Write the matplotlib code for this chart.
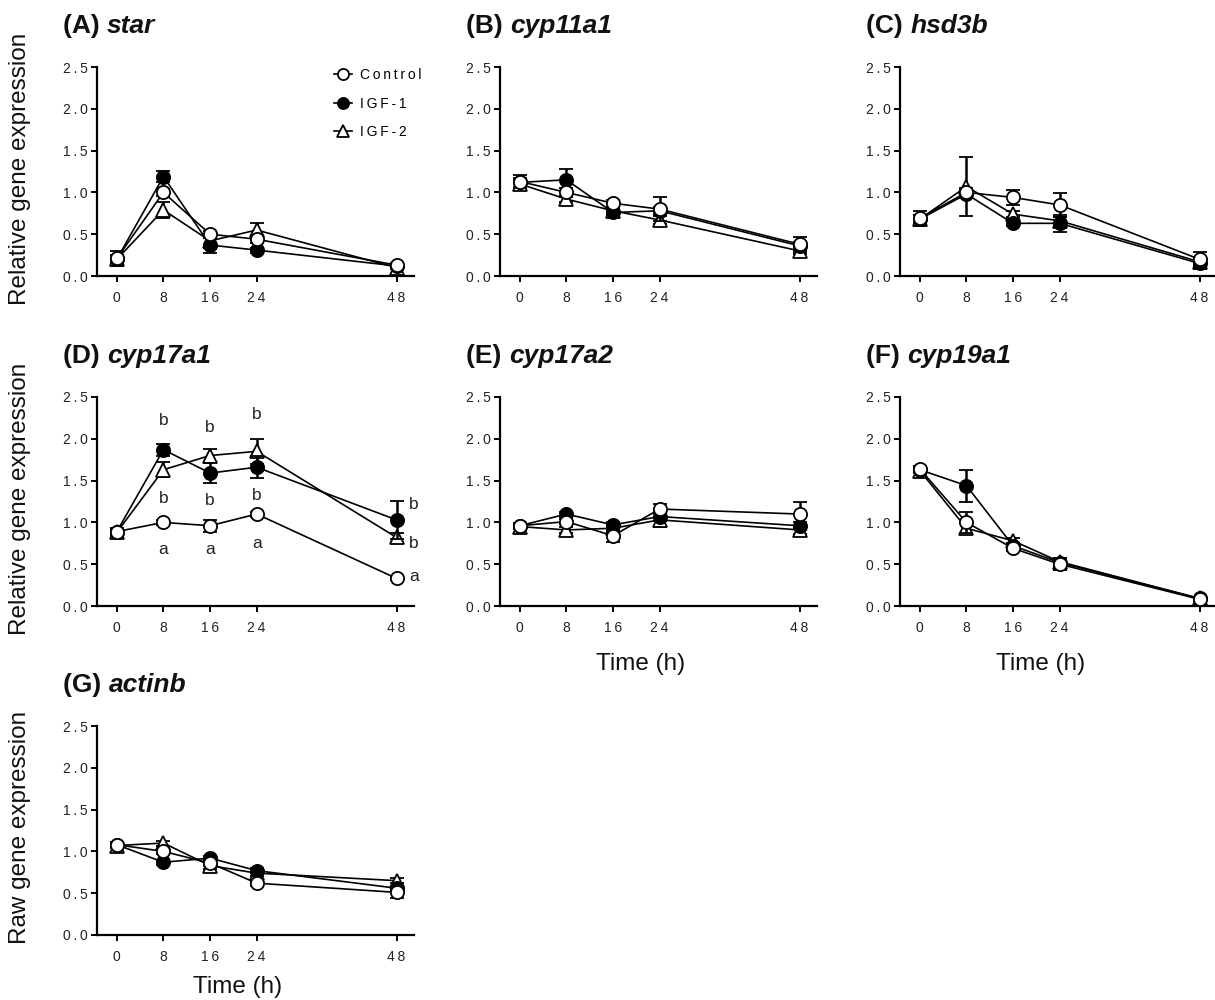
import matplotlib
matplotlib.use("Agg")
import matplotlib.pyplot as plt
from matplotlib.lines import Line2D

plt.rcParams['font.family'] = ['Liberation Sans', 'DejaVu Sans']

TS = "\u2009"  # thin space used for GraphPad-style letter spacing

times = [0, 8, 16, 24, 48]
series_names = ["Control", "IGF-1", "IGF-2"]

genes = ["star", "cyp11a1", "hsd3b", "cyp17a1", "cyp17a2", "cyp19a1", "actinb"]
letters = ["A", "B", "C", "D", "E", "F", "G"]

# mean values [Control, IGF-1, IGF-2]
star_mean = [[0.21, 1.00, 0.50, 0.44, 0.13],
             [0.20, 1.19, 0.37, 0.31, 0.12],
             [0.20, 0.79, 0.42, 0.55, 0.10]]
star_err = [[0.09, 0.04, 0.04, 0.05, 0.03],
            [0.05, 0.07, 0.09, 0.03, 0.02],
            [0.05, 0.10, 0.05, 0.08, 0.02]]

cyp11a1_mean = [[1.13, 1.00, 0.87, 0.80, 0.38],
                [1.12, 1.15, 0.76, 0.78, 0.36],
                [1.10, 0.92, 0.78, 0.67, 0.30]]
cyp11a1_err = [[0.08, 0.05, 0.04, 0.14, 0.09],
               [0.05, 0.13, 0.03, 0.05, 0.05],
               [0.06, 0.04, 0.03, 0.05, 0.04]]

hsd3b_mean = [[0.69, 1.00, 0.94, 0.85, 0.20],
              [0.68, 0.98, 0.63, 0.63, 0.15],
              [0.68, 1.07, 0.74, 0.66, 0.17]]
hsd3b_err = [[0.09, 0.05, 0.085, 0.14, 0.09],
             [0.05, 0.05, 0.03, 0.10, 0.07],
             [0.05, 0.35, 0.04, 0.05, 0.04]]

cyp17a1_mean = [[0.89, 1.00, 0.96, 1.10, 0.33],
                [0.89, 1.87, 1.59, 1.66, 1.03],
                [0.88, 1.63, 1.80, 1.85, 0.82]]
cyp17a1_err = [[0.04, 0.03, 0.07, 0.03, 0.02],
               [0.04, 0.07, 0.12, 0.13, 0.23],
               [0.04, 0.09, 0.08, 0.15, 0.05]]

cyp17a2_mean = [[0.96, 1.01, 0.84, 1.16, 1.10],
                [0.96, 1.10, 0.97, 1.07, 0.96],
                [0.95, 0.91, 0.93, 1.03, 0.91]]
cyp17a2_err = [[0.03, 0.03, 0.07, 0.06, 0.15],
               [0.03, 0.03, 0.03, 0.05, 0.04],
               [0.03, 0.04, 0.04, 0.08, 0.05]]

cyp19a1_mean = [[1.64, 1.00, 0.69, 0.50, 0.08],
                [1.63, 1.44, 0.72, 0.52, 0.09],
                [1.62, 0.93, 0.78, 0.53, 0.09]]
cyp19a1_err = [[0.03, 0.13, 0.03, 0.07, 0.02],
               [0.03, 0.19, 0.03, 0.05, 0.02],
               [0.03, 0.06, 0.03, 0.05, 0.02]]

actinb_mean = [[1.08, 1.00, 0.86, 0.62, 0.51],
               [1.08, 0.87, 0.92, 0.77, 0.56],
               [1.07, 1.10, 0.83, 0.74, 0.65]]
actinb_err = [[0.03, 0.03, 0.03, 0.03, 0.07],
              [0.03, 0.03, 0.03, 0.03, 0.03],
              [0.03, 0.03, 0.04, 0.03, 0.03]]

means = [star_mean, cyp11a1_mean, hsd3b_mean, cyp17a1_mean,
         cyp17a2_mean, cyp19a1_mean, actinb_mean]
errs = [star_err, cyp11a1_err, hsd3b_err, cyp17a1_err,
        cyp17a2_err, cyp19a1_err, actinb_err]

# significance letters for panel D: (time, y, letter)
sig_times = [8, 16, 24, 8, 16, 24, 8, 16, 24]
sig_y = [2.22, 2.13, 2.29, 1.29, 1.26, 1.32, 0.67, 0.67, 0.75]
sig_txt = ["b", "b", "b", "b", "b", "b", "a", "a", "a"]
sig48_y = [1.21, 0.75, 0.35]
sig48_txt = ["b", "b", "a"]

yticks = [0.0, 0.5, 1.0, 1.5, 2.0, 2.5]

def spaced(s):
    return TS.join(list(s))

W, H = 1215, 1000
fig = plt.figure(figsize=(W / 100, H / 100), dpi=100)

# panel layout in pixels: (left, top)
pos = [(97, 67), (500, 67), (900, 67),
       (97, 397), (500, 397), (900, 397),
       (97, 726)]
aw, ah = 317, 209

styles = [dict(marker='o', mfc='white', ms=9.5),
          dict(marker='o', mfc='black', ms=9.5),
          dict(marker='^', mfc='white', ms=9.5)]
draw_order = [2, 1, 0]

axes = []
r = fig.canvas.get_renderer()
for i in range(7):
    l, t = pos[i]
    ax = fig.add_axes([l / W, 1 - (t + ah) / H, aw / W, ah / H])
    axes.append(ax)
    for k in draw_order:
        st = styles[k]
        ax.errorbar(times, means[i][k], yerr=errs[i][k], fmt='-',
                    color='black', lw=1.2, marker=st['marker'], ms=st['ms'],
                    mfc=st['mfc'], mec='black', mew=1.3,
                    ecolor='black', elinewidth=1.8, capsize=5, capthick=1.8,
                    clip_on=False, zorder=3 + (2 - k))
    ax.set_xlim(-3.4, 51.0)
    ax.set_ylim(0, 2.5)
    ax.set_xticks(times)
    ax.set_xticklabels([spaced(str(t_)) for t_ in times])
    ax.set_yticks(yticks)
    ax.set_yticklabels([spaced(f"{v:.1f}") for v in yticks])
    for sp in ['top', 'right']:
        ax.spines[sp].set_visible(False)
    for sp in ['left', 'bottom']:
        ax.spines[sp].set_linewidth(1.6)
    ax.tick_params(axis='both', direction='out', length=4.5, width=1.4,
                   labelsize=10, colors='black', labelcolor='#222222')
    ax.tick_params(axis='x', pad=6)
    ax.tick_params(axis='y', pad=2)

    # title
    tx = (l - 34) / W
    ty = 1 - (t - 34) / H
    t1 = fig.text(tx, ty, f"({letters[i]}) ", fontsize=19, fontweight='bold',
                  va='baseline', ha='left', color='#111111')
    bb = t1.get_window_extent(renderer=r)
    fig.text(bb.x1 / W, ty, genes[i], fontsize=19, fontweight='bold',
             style='italic', va='baseline', ha='left', color='#111111')

# y labels
for i, lab in [(0, "Relative gene expression"), (3, "Relative gene expression"),
               (6, "Raw gene expression")]:
    l, t = pos[i]
    fig.text(20 / W, 1 - (t + ah / 2 - 3) / H, lab, rotation=90, fontsize=17.5,
             ha='center', va='center', color='#111111')

# x labels
for i, off in [(4, 64), (5, 64), (6, 58)]:
    l, t = pos[i]
    fig.text((l + 141) / W, 1 - (t + ah + off) / H, "Time (h)", fontsize=17.5,
             ha='center', va='baseline', color='#111111')

# significance letters in panel D
axD = axes[3]
for x_, y_, s_ in zip(sig_times, sig_y, sig_txt):
    axD.text(x_, y_, s_, ha='center', va='center', fontsize=12.5, color='#222222')
for y_, s_ in zip(sig48_y, sig48_txt):
    axD.text(50.2, y_, s_, ha='left', va='center', fontsize=12.5,
             color='#222222', clip_on=False)

# legend in panel A
handles = [Line2D([], [], color='black', lw=1.2, marker=st['marker'], ms=8,
                  mfc=st['mfc'], mec='black', mew=1.3) for st in styles]
fig.legend(handles, [spaced(n) for n in series_names], loc='upper left',
           bbox_to_anchor=(334 / W, 1 - 68 / H), frameon=False, fontsize=10,
           handlelength=1.3, handletextpad=0.6, labelspacing=1.05,
           borderpad=0, borderaxespad=0)

fig.savefig("out.png", dpi=100)
